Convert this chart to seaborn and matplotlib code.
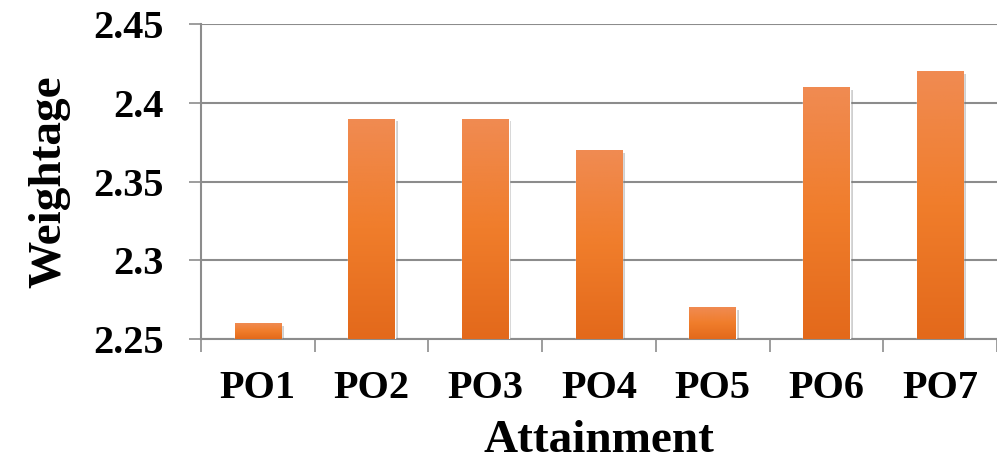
import numpy as np
import pandas as pd
import seaborn as sns
import matplotlib
matplotlib.use("Agg")
from matplotlib import pyplot as plt
from matplotlib import patheffects
from matplotlib.colors import LinearSegmentedColormap

categories = ["PO1", "PO2", "PO3", "PO4", "PO5", "PO6", "PO7"]
weightage = [2.26, 2.39, 2.39, 2.37, 2.27, 2.41, 2.42]
y_ticks = [2.25, 2.3, 2.35, 2.4, 2.45]
y_tick_labels = ["2.25", "2.3", "2.35", "2.4", "2.45"]


def main():
    sns.set_style("white")
    plt.rcParams['font.family'] = ['Liberation Serif', 'DejaVu Serif']
    plt.rcParams['font.weight'] = 'bold'
    plt.rcParams['text.color'] = 'black'
    plt.rcParams['axes.labelcolor'] = 'black'
    plt.rcParams['xtick.color'] = 'black'
    plt.rcParams['ytick.color'] = 'black'

    df = pd.DataFrame({"Attainment": categories, "Weightage": weightage})

    fig = plt.figure(figsize=(9.97, 4.69), dpi=100)
    ax = fig.add_axes([0.2016, 0.2772, 0.7984, 0.6716])

    sns.barplot(data=df, x="Attainment", y="Weightage", color="#EF7D2C",
                width=0.41, ax=ax, zorder=3, saturation=1)

    ymin, ymax = 2.25, 2.45
    ax.set_ylim(ymin, ymax)
    ax.set_xlim(-0.5, len(categories) - 0.5)

    # vertical gradient in each bar, light at top, darker at bottom
    cmap = LinearSegmentedColormap.from_list(
        "bar", ["#E3691B", "#F07D2B", "#F08B52"])
    grad = np.linspace(0, 1, 256).reshape(-1, 1)
    for p in ax.patches:
        x0 = p.get_x()
        x1 = x0 + p.get_width()
        top = p.get_y() + p.get_height()
        p.set_path_effects([patheffects.SimplePatchShadow(
            offset=(2, -2), shadow_rgbFace="#777777", alpha=0.35),
            patheffects.Normal()])
        im = ax.imshow(grad, cmap=cmap, origin="lower", aspect="auto",
                       extent=[x0, x1, ymin, top], zorder=4)
        im.set_clip_path(p)

    ax.set_xlim(-0.5, len(categories) - 0.5)
    ax.set_ylim(ymin, ymax)

    ax.set_yticks(y_ticks)
    ax.set_yticklabels(y_tick_labels)
    ax.yaxis.grid(True, color="#8C8C8C", linewidth=1.5, zorder=0)
    ax.set_axisbelow(True)

    ax.set_xticks(range(len(categories)))
    ax.set_xticklabels(categories)
    ax.set_xticks(np.arange(-0.5, len(categories)), minor=True)
    ax.tick_params(axis="x", which="major", length=0, pad=22, labelsize=29,
                   labelcolor="black")
    ax.tick_params(axis="x", which="minor", bottom=True, length=9, width=1.2,
                   color="#8C8C8C", direction="out")
    ax.tick_params(axis="y", which="major", left=True, length=9, width=1.2,
                   color="#8C8C8C", direction="out", pad=18, labelsize=29,
                   labelcolor="black")

    for side in ["top", "right"]:
        ax.spines[side].set_visible(False)
    for side in ["left", "bottom"]:
        ax.spines[side].set_color("#8C8C8C")
        ax.spines[side].set_linewidth(1.5)

    ax.set_xlabel("Attainment", fontsize=34, fontweight="bold", labelpad=10,
                  color="black")
    ax.set_ylabel("Weightage", fontsize=34, fontweight="bold", labelpad=16,
                  color="black")

    fig.savefig("out.png", dpi=100)


if __name__ == "__main__":
    main()
